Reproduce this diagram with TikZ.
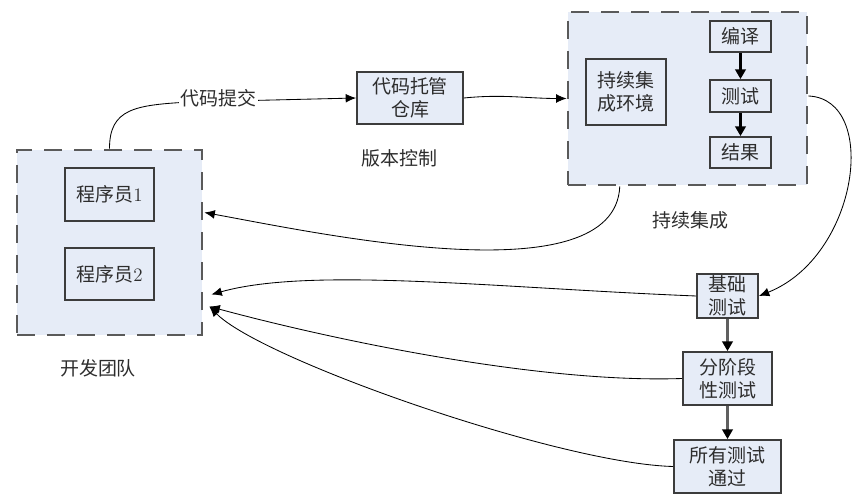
\documentclass[tikz,border=0pt]{standalone}
\usepackage{fontspec}
\newfontfamily\cjk{Noto Sans CJK SC}
\usepackage{xcolor}
\usetikzlibrary{arrows.meta,positioning,calc}
\definecolor{boxfill}{RGB}{230,236,247}
\definecolor{boxline}{RGB}{60,60,60}
\definecolor{grpline}{RGB}{90,90,90}
\definecolor{txt}{RGB}{45,45,45}
\tikzset{
  group/.style = {draw=grpline, line width=2pt, dash pattern=on 0.45cm off 0.3cm,
                  fill=boxfill, inner sep=0pt},
  box/.style   = {draw=boxline, line width=1.3pt, fill=boxfill, align=center,
                  inner sep=1pt, text=txt, font=\cjk\fontsize{13.5}{16.5}\selectfont},
  lab/.style   = {text=txt, font=\cjk\fontsize{13.5}{16.5}\selectfont},
  sig/.style   = {-{Latex[length=2.6mm,width=2.2mm]}, line width=0.6pt},
  flow/.style  = {-{Triangle[length=2.4mm,width=2.6mm,color=black]}, line width=1.6pt},
}

\begin{document}
\begin{tikzpicture}[x=0.025cm, y=0.025cm]
\useasboundingbox (0,0) rectangle (861,499);
% ---- development team ----
\node[group, minimum width=4.625cm, minimum height=4.625cm] (dev) at (109.5,256.5) {};
\node[box, minimum width=2.225cm, minimum height=1.325cm] (p1) at (109.5,304.5) {程序员{\rmfamily 1}};
\node[box, minimum width=2.225cm, minimum height=1.3cm] (p2) at (109.5,225) {程序员{\rmfamily 2}};
\node[lab] (devlab) at (98,131) {开发团队};

% ---- version control ----
\node[box, minimum width=2.65cm, minimum height=1.3cm] (repo) at (410,401) {代码托管\\仓库};
\node[lab] (vclab) at (399.5,341) {版本控制};

% ---- continuous integration ----
\node[group, minimum width=5.975cm, minimum height=4.325cm] (ci) at (687.5,400.5) {};
\node[box, minimum width=2cm, minimum height=1.65cm] (env) at (626,407) {持续集\\成环境};
\node[box, minimum width=1.525cm, minimum height=0.775cm] (compile) at (740.5,462.5) {编译};
\node[box, minimum width=1.525cm, minimum height=0.8cm] (test) at (740.5,403) {测试};
\node[box, minimum width=1.525cm, minimum height=0.775cm] (result) at (740.5,346.5) {结果};
\node[lab] (cilab) at (690.5,279) {持续集成};
\draw[flow] (compile) -- (test);
\draw[flow] (test) -- (result);

% ---- test stages ----
\node[box, minimum width=1.525cm, minimum height=1.1cm] (basic) at (727.5,203) {基础\\测试};
\node[box, minimum width=2.225cm, minimum height=1.325cm] (stage) at (727.5,120.5) {分阶段\\性测试};
\node[box, minimum width=2.675cm, minimum height=1.325cm] (allpass) at (727.5,32.5) {所有测试\\通过};
\draw[flow, draw=gray!75!black] (basic) -- (stage);
\draw[flow, draw=gray!75!black] (stage) -- (allpass);

% ---- connectors ----
\coordinate (cbend) at (190,397);
\coordinate (cibot) at ($(ci.south west)!0.22!(ci.south east)$);
\coordinate (in1) at ($(dev.east)+(1,30)$);
\coordinate (in2) at ($(dev.east)+(8,-52)$);
\coordinate (in3) at ($(dev.east)+(6,-64)$);
\draw[sig] (dev.north) .. controls +(0,40) and +(-55,-3) .. (cbend) -- (repo.west);
\node[lab, fill=white, inner sep=1pt] (commit) at (218.5,401) {代码提交};
\draw[sig] (repo.east) .. controls +(40,4) and +(-40,0) .. (ci.west);
\draw[sig] (cibot) .. controls +(-5,-110) and +(120,-22) .. (in1);
\draw[sig] (test -| ci.east) .. controls +(71,-3) and +(100,40) .. (basic.east);
\draw[sig] (basic.west) .. controls +(-200,8) and +(100,28) .. (in2);
\draw[sig] (stage.west) .. controls +(-143,-5) and +(122,-33) .. (in3);
\draw[sig] (allpass.west) .. controls +(-114,3) and +(52,-53) .. (in3);
\end{tikzpicture}
\end{document}
